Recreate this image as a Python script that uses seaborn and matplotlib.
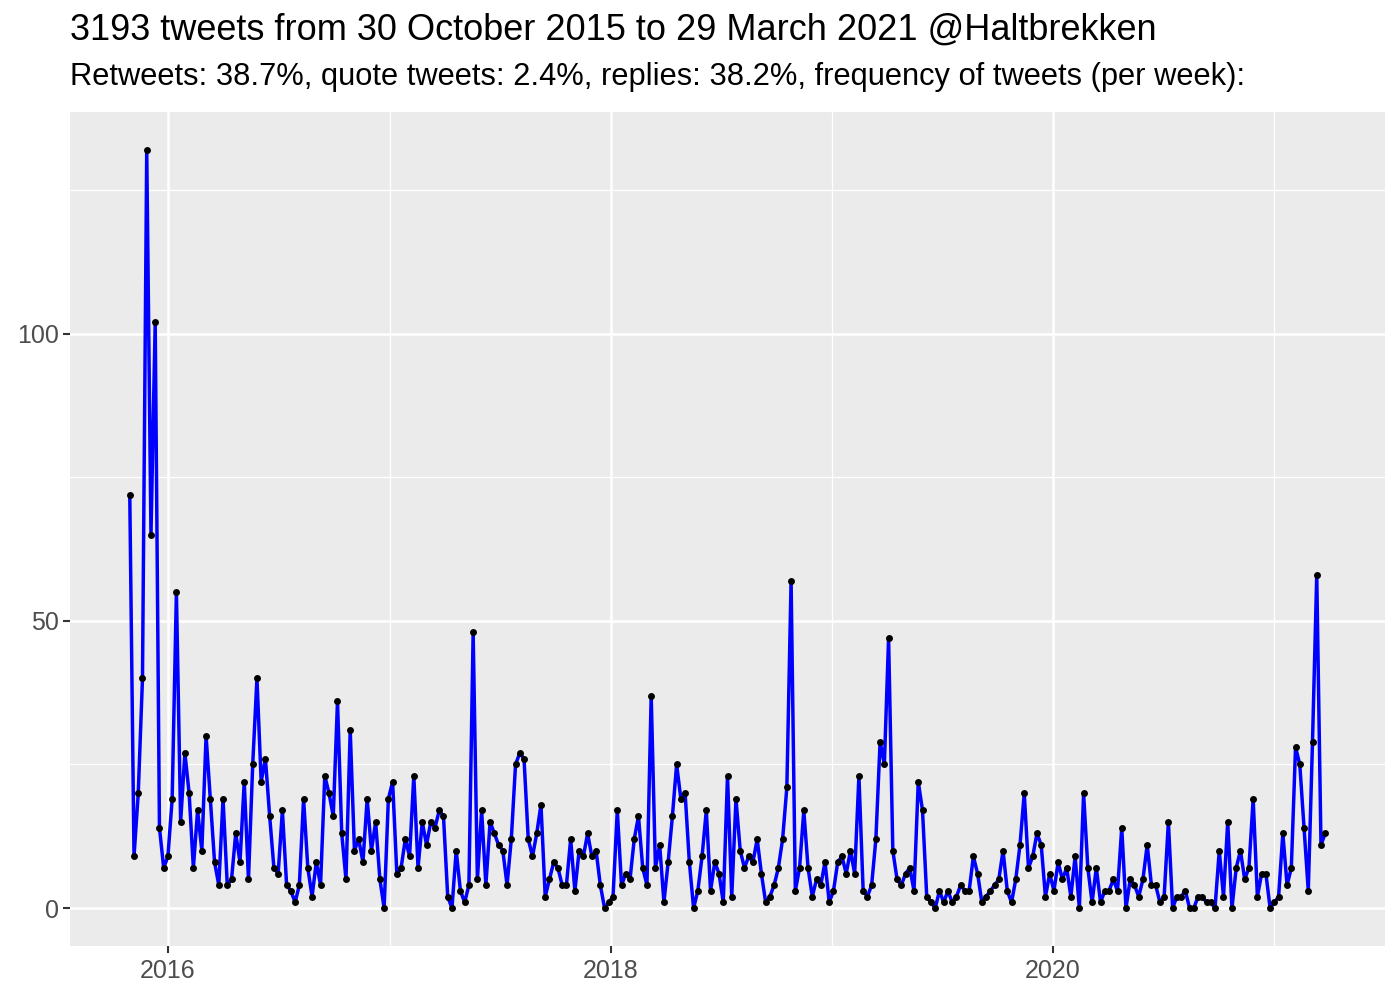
import numpy as np
import pandas as pd
import matplotlib
matplotlib.use("Agg")
import matplotlib.pyplot as plt
import seaborn as sns

start_date = "2015-10-30"
weekly_counts = [
    72, 9, 20, 40, 132, 65, 102, 14, 7, 9,
    19, 55, 15, 27, 20, 7, 17, 10, 30, 19,
    8, 4, 19, 4, 5, 13, 8, 22, 5, 25,
    40, 22, 26, 16, 7, 6, 17, 4, 3, 1,
    4, 19, 7, 2, 8, 4, 23, 20, 16, 36,
    13, 5, 31, 10, 12, 8, 19, 10, 15, 5,
    0, 19, 22, 6, 7, 12, 9, 23, 7, 15,
    11, 15, 14, 17, 16, 2, 0, 10, 3, 1,
    4, 48, 5, 17, 4, 15, 13, 11, 10, 4,
    12, 25, 27, 26, 12, 9, 13, 18, 2, 5,
    8, 7, 4, 4, 12, 3, 10, 9, 13, 9,
    10, 4, 0, 1, 2, 17, 4, 6, 5, 12,
    16, 7, 4, 37, 7, 11, 1, 8, 16, 25,
    19, 20, 8, 0, 3, 9, 17, 3, 8, 6,
    1, 23, 2, 19, 10, 7, 9, 8, 12, 6,
    1, 2, 4, 7, 12, 21, 57, 3, 7, 17,
    7, 2, 5, 4, 8, 1, 3, 8, 9, 6,
    10, 6, 23, 3, 2, 4, 12, 29, 25, 47,
    10, 5, 4, 6, 7, 3, 22, 17, 2, 1,
    0, 3, 1, 3, 1, 2, 4, 3, 3, 9,
    6, 1, 2, 3, 4, 5, 10, 3, 1, 5,
    11, 20, 7, 9, 13, 11, 2, 6, 3, 8,
    5, 7, 2, 9, 0, 20, 7, 1, 7, 1,
    3, 3, 5, 3, 14, 0, 5, 4, 2, 5,
    11, 4, 4, 1, 2, 15, 0, 2, 2, 3,
    0, 0, 2, 2, 1, 1, 0, 10, 2, 15,
    0, 7, 10, 5, 7, 19, 2, 6, 6, 0,
    1, 2, 13, 4, 7, 28, 25, 14, 3, 29,
    58, 11, 13,
]
year_ticks = ["2016", "2018", "2020"]
minor_year_ticks = ["2017", "2019", "2021"]
y_ticks = [0, 50, 100]
y_minor = [25, 75, 125]
title_text = "3193 tweets from 30 October 2015 to 29 March 2021 @Haltbrekken"
subtitle_text = "Retweets: 38.7%, quote tweets: 2.4%, replies: 38.2%, frequency of tweets (per week):"

df = pd.DataFrame({
    "week": pd.date_range(start_date, periods=len(weekly_counts), freq="7D"),
    "tweets": weekly_counts,
})

sns.set_theme(style="darkgrid")
plt.rcParams["font.family"] = ["Liberation Sans", "DejaVu Sans"]

fig = plt.figure(figsize=(14, 10), dpi=100)
ax = fig.add_axes([70 / 1400, 1 - 946 / 1000, (1385 - 70) / 1400, (946 - 112) / 1000])
ax.set_facecolor("#EBEBEB")

sns.lineplot(data=df, x="week", y="tweets", ax=ax, color="#0000FF", linewidth=2.5, zorder=3)
sns.scatterplot(data=df, x="week", y="tweets", ax=ax, color="black", s=25,
                edgecolor="black", linewidth=0, zorder=4)

# limits with ggplot-style 5% expansion
d0, d1 = df["week"].min(), df["week"].max()
span = d1 - d0
ax.set_xlim(d0 - span * 0.05, d1 + span * 0.05)
ymax = max(weekly_counts)
ax.set_ylim(-0.05 * ymax, ymax * 1.05)

ax.set_xticks([pd.Timestamp(y + "-01-01") for y in year_ticks])
ax.set_xticklabels(year_ticks)
ax.set_xticks([pd.Timestamp(y + "-01-01") for y in minor_year_ticks], minor=True)
ax.set_yticks(y_ticks)
ax.set_yticklabels([str(v) for v in y_ticks])
ax.set_yticks(y_minor, minor=True)

ax.grid(which="major", color="white", linewidth=1.8)
ax.grid(which="minor", color="white", linewidth=0.9)
ax.set_axisbelow(True)
for s in ax.spines.values():
    s.set_visible(False)

ax.tick_params(axis="both", which="major", colors="#333333", labelcolor="#4D4D4D",
               labelsize=18, length=5, width=1.5, direction="out", pad=3,
               bottom=True, left=True)
ax.tick_params(axis="x", which="major", pad=4)
ax.tick_params(axis="both", which="minor", length=0, bottom=False, left=False)
ax.set_xlabel("")
ax.set_ylabel("")

fig.text(70 / 1400, 1 - 30 / 1000, title_text, fontsize=26, color="black",
         ha="left", va="center")
fig.text(70 / 1400, 1 - 77 / 1000, subtitle_text, fontsize=22.2, color="black",
         ha="left", va="center")

fig.savefig("out.png", dpi=100)
